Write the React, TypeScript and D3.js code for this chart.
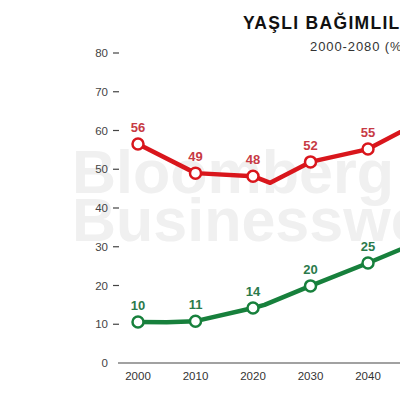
import React from "react";
import * as d3 from "d3";

const years = [2000, 2010, 2020, 2030, 2040, 2050, 2060, 2070, 2080];
const yTicks = [0, 10, 20, 30, 40, 50, 60, 70, 80];

// line paths (includes unmarked bends)
const redLineYears = [2000, 2010, 2020, 2023, 2030, 2040, 2050];
const redLineValues = [56.5, 49, 48.2, 46.5, 51.9, 55.2, 63];
const greenLineYears = [2000, 2005, 2010, 2020, 2022, 2030, 2040, 2050];
const greenLineValues = [10.6, 10.5, 10.8, 14.2, 15, 19.9, 25.8, 32];

// marked points with labels
const markYears = [2000, 2010, 2020, 2030, 2040];
const redMarkValues = [56.5, 49, 48.2, 51.9, 55.2];
const redLabels = ["56", "49", "48", "52", "55"];
const greenMarkValues = [10.6, 10.8, 14.2, 19.9, 25.8];
const greenLabels = ["10", "11", "14", "20", "25"];

const RED = "#d9161c";
const RED_TXT = "#c73a44";
const GREEN = "#17803c";
const GREEN_TXT = "#2b7a4b";

export default function App() {
  const x = d3.scaleLinear().domain([2000, 2080]).range([138, 598]);
  const y = d3.scaleLinear().domain([0, 80]).range([363, 53]);
  const line = d3
    .line<[number, number]>()
    .x((d) => x(d[0]))
    .y((d) => y(d[1]))
    .curve(d3.curveLinear);
  const redPts: [number, number][] = redLineYears.map((yr, i) => [yr, redLineValues[i]]);
  const greenPts: [number, number][] = greenLineYears.map((yr, i) => [yr, greenLineValues[i]]);
  const font = "Arial, 'Liberation Sans', Helvetica, sans-serif";

  return (
    <svg
      width={400}
      height={400}
      style={{ position: "absolute", left: 0, top: 0, background: "#fff" }}
      fontFamily={font}
    >
      <rect x={0} y={0} width={400} height={400} fill="#fff" />
      {/* watermark */}
      <text x={72} y={193} fontSize={61} fontWeight="bold" fill="#f0f0f0">
        Bloomberg
      </text>
      <text x={72} y={241} fontSize={61} fontWeight="bold" fill="#f0f0f0">
        Businessweek
      </text>
      {/* title */}
      <text x={243} y={29} fontSize={17.5} fontWeight="bold" fill="#111" letterSpacing={1.3}>
        YAŞLI BAĞIMLILIK ORANI
      </text>
      <text x={310} y={51} fontSize={13} fill="#333" letterSpacing={0.9}>
        2000-2080 (%)
      </text>
      {/* y axis */}
      {yTicks.map((t) => (
        <g key={t}>
          <text x={108} y={y(t) + 4} fontSize={11.5} fill="#444" textAnchor="end">
            {t}
          </text>
          {t !== 0 && (
            <line x1={113} x2={119} y1={y(t)} y2={y(t)} stroke="#444" strokeWidth={1.2} />
          )}
        </g>
      ))}
      <line x1={118} x2={640} y1={y(0)} y2={y(0)} stroke="#444" strokeWidth={1.2} />
      {years.map((yr) => (
        <text key={yr} x={x(yr)} y={380} fontSize={11.5} fill="#333" textAnchor="middle">
          {yr}
        </text>
      ))}
      {/* lines */}
      <path d={line(redPts) || ""} fill="none" stroke={RED} strokeWidth={4.5} strokeLinejoin="round" />
      <path d={line(greenPts) || ""} fill="none" stroke={GREEN} strokeWidth={4.5} strokeLinejoin="round" />
      {markYears.map((yr, i) => (
        <g key={"r" + yr}>
          <circle cx={x(yr)} cy={y(redMarkValues[i])} r={5.5} fill="#fff" stroke={RED} strokeWidth={2.5} />
          <text
            x={x(yr)}
            y={y(redMarkValues[i]) - 12}
            fontSize={13}
            fontWeight="bold"
            fill={RED_TXT}
            textAnchor="middle"
          >
            {redLabels[i]}
          </text>
          <circle cx={x(yr)} cy={y(greenMarkValues[i])} r={5.5} fill="#fff" stroke={GREEN} strokeWidth={2.5} />
          <text
            x={x(yr)}
            y={y(greenMarkValues[i]) - 12}
            fontSize={13}
            fontWeight="bold"
            fill={GREEN_TXT}
            textAnchor="middle"
          >
            {greenLabels[i]}
          </text>
        </g>
      ))}
    </svg>
  );
}
